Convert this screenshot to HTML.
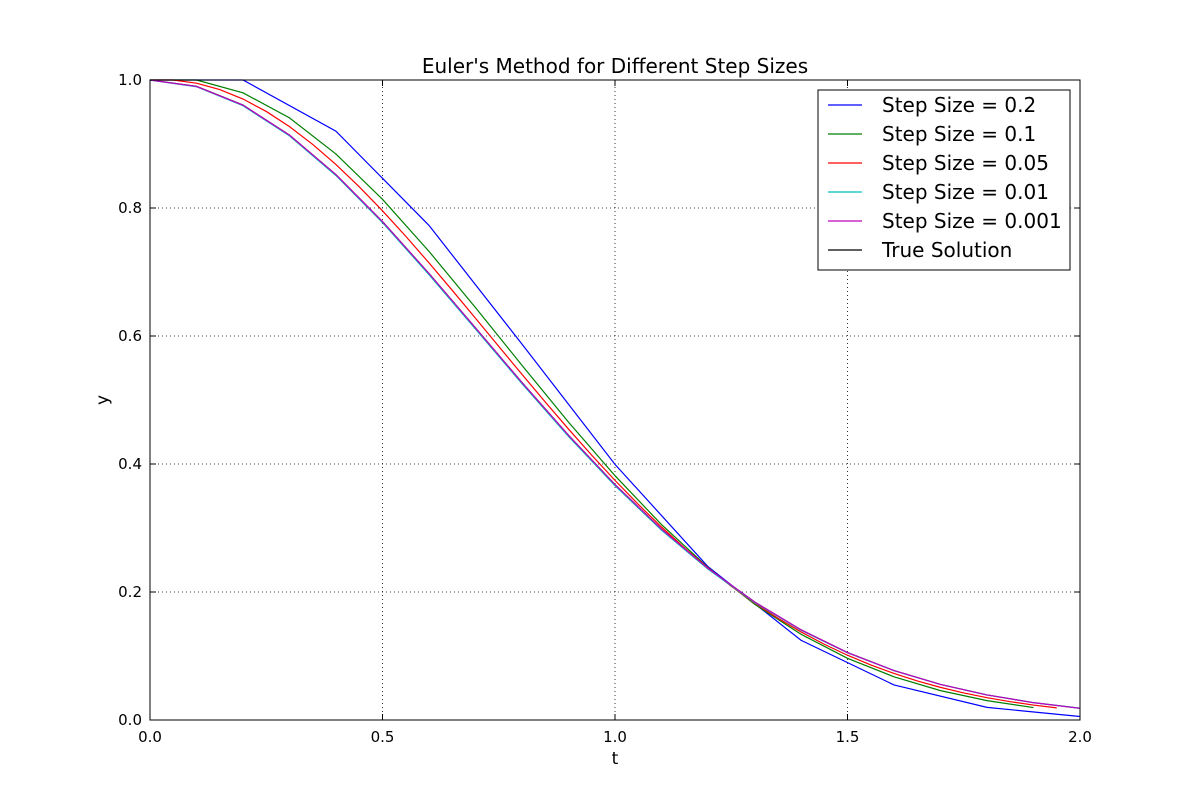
<!DOCTYPE html>
<html><head><meta charset="utf-8"><style>
body{margin:0;background:#fff;}
svg text{font-family:"DejaVu Sans","Liberation Sans",sans-serif;}
</style></head><body>
<svg id="chart" width="1200" height="800" xmlns="http://www.w3.org/2000/svg">
<rect width="1200" height="800" fill="#fff"/>
<g id="grid"></g><g id="series"></g><g id="axes"></g>
<text x="615" y="73" text-anchor="middle" font-size="20">Euler's Method for Different Step Sizes</text>
<text x="615" y="764" text-anchor="middle" font-size="17">t</text>
<text x="108" y="400" text-anchor="middle" font-size="17" transform="rotate(-90 108 400)">y</text>
<g id="legend"></g>
</svg>
<script>
const xTicks=[0,0.5,1,1.5,2];
const xTickLabels=["0.0","0.5","1.0","1.5","2.0"];
const yTicks=[0,0.2,0.4,0.6,0.8,1.0];
const yTickLabels=["0.0","0.2","0.4","0.6","0.8","1.0"];
const seriesNames=["Step Size = 0.2","Step Size = 0.1","Step Size = 0.05","Step Size = 0.01","Step Size = 0.001","True Solution"];
const seriesColors=["#0000ff","#007f00","#ff0000","#00bfbf","#bf00bf","#000000"];
const t02=[0,0.2,0.4,0.6,0.8,1.0,1.2,1.4,1.6,1.8,2.0];
const y02=[1,1,0.92,0.7728,0.5873,0.3994,0.2396,0.1246,0.0548,0.0197,0.0055];
const t01=[0,0.1,0.2,0.3,0.4,0.5,0.6,0.7,0.8,0.9,1.0,1.1,1.2,1.3,1.4,1.5,1.6,1.7,1.8,1.9];
const y01=[1,1,0.98,0.9408,0.88435,0.8136,0.73224,0.64437,0.55416,0.46549,0.3817,0.30536,0.23818,0.18102,0.13395,0.09645,0.06751,0.04591,0.0303,0.01939];
const t005=[0,0.05,0.1,0.15,0.2,0.25,0.3,0.35,0.4,0.45,0.5,0.55,0.6,0.65,0.7,0.75,0.8,0.85,0.9,0.95,1.0,1.05,1.1,1.15,1.2,1.25,1.3,1.35,1.4,1.45,1.5,1.55,1.6,1.65,1.7,1.75,1.8,1.85,1.9,1.95];
const y005=[1,1,0.995,0.98505,0.97027,0.95087,0.9271,0.89928,0.86781,0.8331,0.79561,0.75583,0.71426,0.6714,0.62776,0.58382,0.54003,0.49683,0.4546,0.41368,0.37438,0.33694,0.30156,0.26839,0.23752,0.20902,0.18289,0.15912,0.13763,0.11836,0.1012,0.08602,0.07269,0.06106,0.05098,0.04232,0.03491,0.02863,0.02333,0.0189];
const tFine=[0,0.1,0.2,0.3,0.4,0.5,0.6,0.7,0.8,0.9,1.0,1.1,1.2,1.3,1.4,1.5,1.6,1.7,1.8,1.9,2.0];
const y001=[1,0.9895,0.9598,0.9127,0.8506,0.7771,0.6958,0.6107,0.5254,0.443,0.3661,0.2966,0.2357,0.1836,0.1402,0.1050,0.0771,0.0555,0.0392,0.0271,0.0184];
const y0001=[1,0.99,0.9607,0.9138,0.8520,0.7787,0.6976,0.6125,0.5272,0.4448,0.3678,0.2982,0.2369,0.1845,0.1409,0.1054,0.0773,0.0556,0.0392,0.0271,0.0183];
const yTrue=[1,0.99005,0.96079,0.91393,0.85214,0.7788,0.69768,0.61263,0.52729,0.44486,0.36788,0.2982,0.23693,0.18452,0.14086,0.1054,0.0773,0.05558,0.03916,0.02705,0.01832];

const X0=150,X1=1080,Y0=720,Y1=80;
const sx=v=>X0+(v-0)/(2-0)*(X1-X0);
const sy=v=>Y0-(v-0)/(1-0)*(Y0-Y1);
const NS="http://www.w3.org/2000/svg";
function mk(tag,attrs,parent){const e=document.createElementNS(NS,tag);for(const k in attrs)e.setAttribute(k,attrs[k]);parent.appendChild(e);return e;}
const grid=document.getElementById('grid'),axes=document.getElementById('axes'),ser=document.getElementById('series'),leg=document.getElementById('legend');

xTicks.forEach((v,i)=>{
  const g=mk('line',{x1:sx(v),x2:sx(v),y1:Y0,y2:Y1,stroke:'#000','stroke-width':0.8,'stroke-dasharray':'1,3'},grid);
  
  
  mk('line',{x1:sx(v),x2:sx(v),y1:Y0,y2:Y0-6,stroke:'#000'},axes);
  mk('line',{x1:sx(v),x2:sx(v),y1:Y1,y2:Y1+6,stroke:'#000'},axes);
  const t=mk('text',{x:sx(v),y:Y0+22,'text-anchor':'middle','font-size':15},axes);
  t.textContent=xTickLabels[i];
  
  
});
yTicks.forEach((v,i)=>{
  const g=mk('line',{x1:X0,x2:X1,y1:sy(v),y2:sy(v),stroke:'#000','stroke-width':0.8,'stroke-dasharray':'1,3'},grid);
  
  
  mk('line',{x1:X0,x2:X0+6,y1:sy(v),y2:sy(v),stroke:'#000'},axes);
  mk('line',{x1:X1,x2:X1-6,y1:sy(v),y2:sy(v),stroke:'#000'},axes);
  const t=mk('text',{x:X0-8,y:sy(v)+5,'text-anchor':'end','font-size':15},axes);
  t.textContent=yTickLabels[i];
  
  
});
const frame=mk('rect',{x:X0,y:Y1,width:X1-X0,height:Y0-Y1,fill:'none',stroke:'#000','stroke-width':1},axes);



const data=[[t02,y02],[t01,y01],[t005,y005],[tFine,y001],[tFine,y0001],[tFine,yTrue]];
const order=[5,0,1,2,3,4];
order.forEach(i=>{
  const [ts,ys]=data[i];
  const p=mk('polyline',{points:ts.map((t,j)=>sx(t)+','+sy(ys[j])).join(' '),fill:'none',stroke:seriesColors[i],'stroke-width':1.2},ser);
  
  
});

mk('rect',{x:818,y:90,width:252,height:180,fill:'#fff',stroke:'#000'},leg);
seriesNames.forEach((n,i)=>{
  const y=105+i*29;
  const l=mk('line',{x1:828,x2:862,y1:y,y2:y,stroke:seriesColors[i],'stroke-width':1.2},leg);
  
  
  const t=mk('text',{x:882,y:y+7,'font-size':20},leg);
  t.textContent=n;
  
  
});
</script>
</body></html>
